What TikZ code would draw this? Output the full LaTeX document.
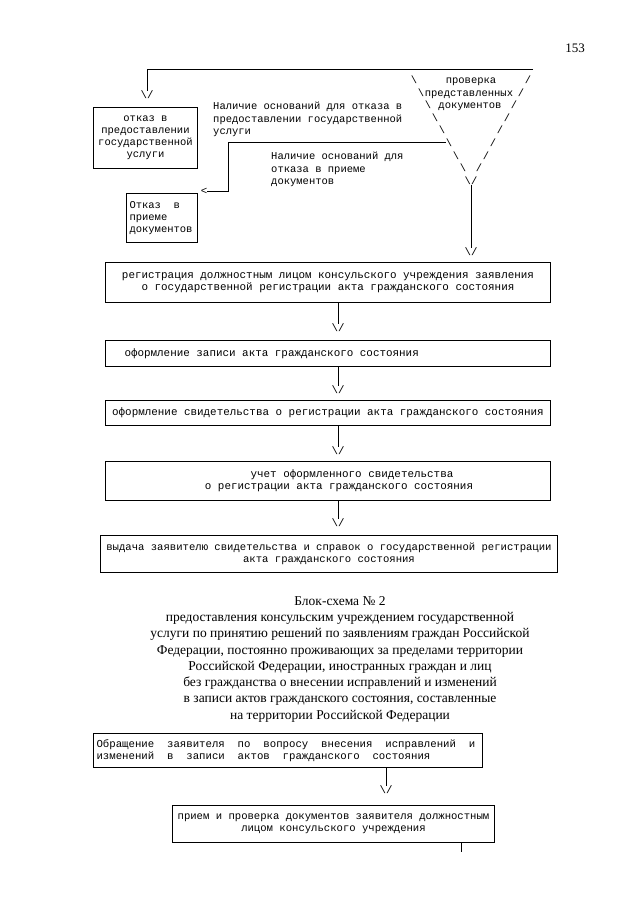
\documentclass[tikz,border=0pt]{standalone}
\usepackage{fontspec}
\setmainfont{Liberation Serif}
\setmonofont{Liberation Mono}
\usetikzlibrary{positioning}

% two monospaced blanks
\newcommand{\dsp}{\hspace*{1.2em}}
% typewriter text with fixed blanks
\newcommand{\mono}[2]{\ttfamily\fontsize{#1}{#2}\selectfont\spaceskip=0.6em\relax}

\tikzset{
  box/.style={draw, line width=1pt, inner ysep=0pt, inner xsep=3pt, anchor=north west,
    font=\mono{10.9}{12}, execute at begin node={\spaceskip=0.6em\relax}},
  note/.style={inner sep=0pt, anchor=north west, align=left, font=\mono{10.5}{12.4}},
  tri/.style={inner sep=0pt, anchor=base, font=\mono{10.5}{12}},
  tipmark/.style={inner sep=0pt, font=\mono{10.8}{12}},
  link/.style={line width=1pt},
}

\begin{document}
\begin{tikzpicture}[x=1pt, y=-1pt]
	\fill[white] (0,0) rectangle (640,905);
	\useasboundingbox (0,0) rectangle (640,905);

	\node[font=\fontsize{13}{15}\selectfont] (page) at (575,48) {153};

	% проверка документов
	\foreach \i in {0,...,7} {
		\node[tri] (l\i) at ({414+7*\i},{83.5+12.6*\i}) {\textbackslash};
		\node[tri] (r\i) at ({528-7*\i},{83.5+12.6*\i}) {/};
	}
	\node[tri] (check1) at (471,83.5) {проверка};
	\node[tri] (check2) at (469,96.1) {представленных};
	\node[tri] (check3) at (470,108.7) {документов};
	\node[tri] (vend) at (471,184.3) {\textbackslash/};
	\coordinate (topin) at (533,69);

	\node[note] (why1) at (213,102) {Наличие оснований для отказа в\\предоставлении государственной\\услуги};
	\node[note] (why2) at (271,152) {Наличие оснований для\\отказа в приеме\\документов};

	% отказы
	\node[tipmark] (t0) at (147,95) {\textbackslash/};
	\node[box, font=\mono{10.5}{12}, text width=98pt, minimum height=61pt, align=center]
		(refuse) at (93,107) {отказ в\\предоставлении\\государственной\\услуги};
	\node[tipmark] (lt) at (204,191) {<};
	\node[box, font=\mono{10.5}{12}, text width=65pt, minimum height=49pt, align=left]
		(reject) at (126,193) {Отказ\dsp в\\приеме\\документов};

	% основная цепочка
	\node[tipmark] (t1) at (471,252) {\textbackslash/};
	\node[box, text width=439pt, minimum height=40pt, align=center] (reg) at (105,262)
		{регистрация должностным лицом консульского учреждения заявления\\о государственной регистрации акта гражданского состояния};
	\node[tipmark] (t2) at (338,328) {\textbackslash/};
	\node[box, inner xsep=19pt, text width=407pt, minimum height=26pt, align=left] (rec) at (105,340)
		{оформление записи акта гражданского состояния};
	\node[tipmark] (t3) at (338,390) {\textbackslash/};
	\node[box, text width=439pt, minimum height=25pt, align=center] (cert) at (105,400)
		{оформление свидетельства о регистрации акта гражданского состояния};
	\node[tipmark] (t4) at (338,451) {\textbackslash/};
	\node[box, text width=439pt, minimum height=39pt, align=center] (acc) at (105,461)
		{\hspace*{48pt}учет оформленного свидетельства\\\hspace*{22pt}о регистрации акта гражданского состояния};
	\node[tipmark] (t5) at (338,523) {\textbackslash/};
	\node[box, font=\mono{10.6}{12}, text width=451pt, minimum height=37pt, align=center] (issue) at (100,535)
		{выдача заявителю свидетельства и справок о государственной регистрации\\акта гражданского состояния};

	% заголовок блок-схемы 2
	\node[anchor=north, align=center, inner sep=0pt, font=\fontsize{13.5}{16.3}\selectfont] (head) at (340,596)
		{Блок-схема № 2\\
		предоставления консульским учреждением государственной\\
		услуги по принятию решений по заявлениям граждан Российской\\
		Федерации, постоянно проживающих за пределами территории\\
		Российской Федерации, иностранных граждан и лиц\\
		без гражданства о внесении исправлений и изменений\\
		в записи актов гражданского состояния, составленные\\
		на территории Российской Федерации};

	\node[box, font=\mono{10.7}{12}, text width=383pt, minimum height=34pt, align=left] (appl) at (93,733)
		{Обращение\dsp заявителя\dsp по\dsp вопросу\dsp внесения\dsp исправлений\dsp и\\изменений\dsp в\dsp записи\dsp актов\dsp гражданского\dsp состояния};
	\node[tipmark] (t6) at (386,790) {\textbackslash/};
	\node[box, font=\mono{10.6}{12}, text width=316pt, minimum height=37pt, align=center] (recv) at (172,805)
		{прием и проверка документов заявителя должностным\\лицом консульского учреждения};
	\coordinate (cont) at (461,852);

	% соединения
	\draw[link] (topin) -| (t0.north);
	\draw[link] (l5.west) -- ++(-217,0) |- (lt.east);
	\draw[link] (vend.south) -- (vend.south |- t1.north);
	\draw[link] (reg.south -| t2) -- (t2.north);
	\draw[link] (rec.south -| t3) -- (t3.north);
	\draw[link] (cert.south -| t4) -- (t4.north);
	\draw[link] (acc.south -| t5) -- (t5.north);
	\draw[link] (appl.south -| t6) -- (t6.north);
	\draw[link] (cont |- recv.south) -- (cont);
\end{tikzpicture}
\end{document}
